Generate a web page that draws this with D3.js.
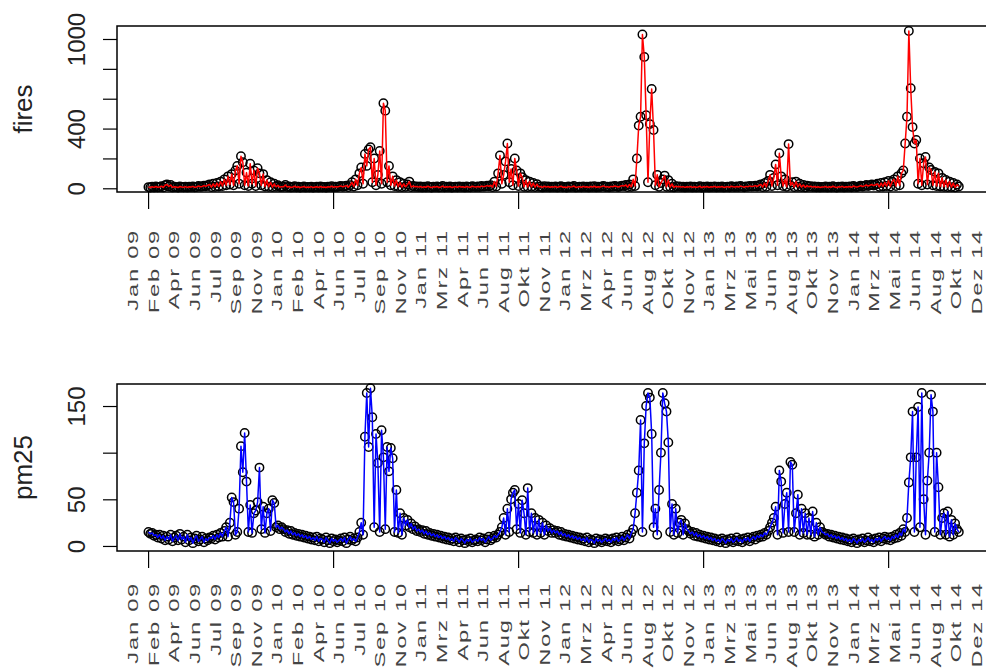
<!DOCTYPE html>
<html>
<head>
<meta charset="utf-8">
<script src="https://cdn.jsdelivr.net/npm/d3@7"></script>
<style>
body { margin: 0; background: #fff; }
svg { display: block; }
</style>
</head>
<body>
<div id="chart"></div>
<script>
"use strict";

// daily series, one value every 5 days from day 1 (1 Jan 2009)
// first line of each year: quiet months, second line: fire season
var start_day = 1;
var step_days = 5;

var fires_2009 = [
    8,5,10,6,12,7,9,14,6,20,25,12,22,6,10,8,5,12,9,7,11,6,10,8,13,7,9,15,10,12,18,14,20,
    25,8,30,10,35,12,45,15,60,20,80,25,95,20,120,150,30,215,175,20,105,15,165,30,120,15,135,100,20,95,12,55,10,40,8,30,10,20,8,10
];
var fires_2010 = [
    10,22,8,12,6,9,14,7,10,5,8,12,6,9,7,11,5,8,10,6,12,7,9,5,10,8,14,7,11,9,12,16,10,14,
    18,8,20,40,12,60,20,100,140,30,230,150,260,275,40,200,20,90,250,30,570,520,40,150,20,80,15,55,10,40,8,30,10,25,45,8,15,10,12
];
var fires_2011 = [
    8,12,6,10,7,14,9,5,11,8,12,6,9,15,7,10,8,12,5,9,11,7,13,8,10,6,12,9,7,14,10,8,12,9,15,11,13,18,14,
    20,8,45,12,100,220,30,90,180,300,40,130,20,200,120,15,100,75,10,55,8,45,10,35,8,28,10,12,6,14,8,12,7,10
];
var fires_2012 = [
    8,12,6,10,14,7,9,5,12,8,10,15,6,9,11,7,13,8,10,6,12,9,14,7,10,8,12,16,9,11,7,13,10,15,12,9,14,18,15,
    22,8,25,10,60,15,200,420,480,1030,880,490,40,430,665,390,20,90,10,35,60,85,10,55,8,30,6,14,10,12,8,11,6,10
];
var fires_2013 = [
    8,12,6,10,7,9,14,5,11,8,12,6,10,9,13,7,10,8,12,6,9,11,7,14,10,8,12,9,15,11,7,13,10,16,12,14,18,12,20,
    25,8,35,10,50,90,15,70,160,20,235,80,15,60,10,296,20,40,8,45,10,30,8,22,6,18,10,14,8,12,7,10,6,9
];
var fires_2014 = [
    8,12,6,10,7,14,9,5,11,8,13,6,10,9,12,7,15,10,8,13,18,12,16,22,15,20,25,18,24,
    30,10,35,12,40,15,50,12,45,60,15,80,20,100,120,300,480,1054,670,410,300,323,30,200,20,168,210,25,140,123,
    20,110,15,100,12,70,10,56,8,45,8,35,6,25,12
];

var pm25_2009 = [
    15,13,14,11,12,9,12,8,11,6,10,7,12,5,9,11,6,13,7,10,4,12,6,9,3,8,11,5,7,10,4,8,6,9,8,11,7,12,9,14,10,
    16,20,10,25,52,47,12,15,40,107,79,121,69,15,44,14,35,38,47,84,18,42,14,35,40,16,49,46,20,22,18,20
];
var pm25_2010 = [
    18,15,17,13,16,12,14,11,13,10,12,9,11,8,10,7,9,6,10,5,8,7,4,9,6,3,8,5,7,4,6,8,5,9,3,7,10,6,8,5,9,
    15,25,12,117,164,106,169,138,20,120,89,15,124,95,18,106,80,105,94,15,60,14,35,12,30,22,28,20,24,18,21,16
];
var pm25_2011 = [
    18,15,17,13,16,12,14,11,13,10,12,9,11,8,10,7,9,6,8,5,9,7,4,8,6,3,7,5,8,4,6,7,5,9,6,8,4,7,10,6,8,11,9,12,15,
    20,30,12,40,15,50,57,60,18,45,14,49,35,12,62,15,35,14,30,12,28,14,25,12,22,16,19,14
];
var pm25_2012 = [
    17,14,16,12,15,11,13,10,12,9,11,8,10,7,9,6,8,5,9,4,7,6,3,8,5,7,4,6,8,5,7,4,8,6,9,5,7,10,6,9,12,8,14,18,
    35,57,81,135,15,110,150,164,159,120,20,40,12,60,100,164,153,144,111,15,45,12,40,14,25,28,12,24,18
];
var pm25_2013 = [
    16,13,15,11,14,10,12,9,11,8,10,7,9,6,8,5,7,4,8,6,3,7,5,8,4,6,9,5,7,4,8,6,9,5,8,10,7,11,9,12,10,14,12,16,20,
    25,30,42,12,81,69,14,45,57,15,90,87,15,35,55,12,40,14,35,12,30,12,37,10,25,12,20,15
];
var pm25_2014 = [
    14,12,13,10,12,9,11,8,10,7,9,6,8,5,7,4,8,6,3,7,5,8,4,6,9,5,7,4,8,6,9,5,8,10,7,9,6,10,8,12,9,14,11,18,15,
    30,68,95,144,15,95,149,20,164,50,12,70,100,162,144,15,100,63,12,30,35,12,37,10,28,12,24,18,15
];

var month_labels = [
    "Jan 09","Feb 09","Apr 09","Jun 09","Jul 09","Sep 09","Nov 09",
    "Jan 10","Feb 10","Apr 10","Jun 10","Jul 10","Sep 10","Nov 10",
    "Jan 11","Mrz 11","Apr 11","Jun 11","Aug 11","Okt 11","Nov 11",
    "Jan 12","Mrz 12","Apr 12","Jun 12","Aug 12","Okt 12","Nov 12",
    "Jan 13","Mrz 13","Mai 13","Jun 13","Aug 13","Okt 13","Nov 13",
    "Jan 14","Mrz 14","Mai 14","Jun 14","Aug 14","Okt 14","Dez 14"
];

var x_ticks = [0, 500, 1000, 1500, 2000];
var fires_ticks = [0, 200, 400, 600, 800, 1000];
var fires_tick_labels = [0, 400, 1000];
var pm25_ticks = [0, 50, 100, 150];
var pm25_tick_labels = [0, 50, 150];

var fires = [].concat(fires_2009, fires_2010, fires_2011, fires_2012, fires_2013, fires_2014);
var pm25 = [].concat(pm25_2009, pm25_2010, pm25_2011, pm25_2012, pm25_2013, pm25_2014);

var specs = {
    w: 986,
    h: 671,
    left: 117,
    right: 991
};

var panels = [
    { name: "fires", values: fires, color: "#ff0000", top: 26, bottom: 192,
      domain: [-24.8, 1087], ticks: fires_ticks, tick_labels: fires_tick_labels, label_y: 229 },
    { name: "pm25", values: pm25, color: "#0000ff", top: 384, bottom: 551,
      domain: [-5.4, 173.6], ticks: pm25_ticks, tick_labels: pm25_tick_labels, label_y: 582 }
];

var svg = d3.select("#chart").append("svg")
    .attr("width", specs.w)
    .attr("height", specs.h);

var x = d3.scaleLinear().domain([-84, 2278]).range([specs.left, specs.right]);

// month labels sit evenly along the axis, not on their dates
var x_months = d3.scalePoint().domain(month_labels).range([x(-40), x(2240)]);

function day_of(i) { return start_day + i * step_days; }

panels.forEach(function(p) {
    var y = d3.scaleLinear().domain(p.domain).range([p.bottom, p.top]);
    var g = svg.append("g");

    // open circles first, coloured line on top
    g.selectAll("circle")
        .data(p.values)
        .enter()
        .append("circle")
        .attr("cx", function(d, i) { return x(day_of(i)); })
        .attr("cy", function(d) { return y(d); })
        .attr("r", 4.2)
        .attr("fill", "none")
        .attr("stroke", "#000")
        .attr("stroke-width", 1.5);

    var line = d3.line()
        .x(function(d, i) { return x(day_of(i)); })
        .y(function(d) { return y(d); });

    g.append("path")
        .datum(p.values)
        .attr("d", line)
        .attr("fill", "none")
        .attr("stroke", p.color)
        .attr("stroke-width", 1.5)
        .attr("stroke-linejoin", "round");

    // frame
    g.append("rect")
        .attr("x", specs.left)
        .attr("y", p.top)
        .attr("width", specs.right - specs.left)
        .attr("height", p.bottom - p.top)
        .attr("fill", "none")
        .attr("stroke", "#000")
        .attr("stroke-width", 1.5);

    // y axis
    var y_axis = g.append("g")
        .attr("transform", "translate(" + specs.left + ",0)")
        .call(d3.axisLeft(y).tickValues(p.ticks).tickSize(14).tickSizeOuter(0)
            .tickFormat(function(d) { return p.tick_labels.indexOf(d) >= 0 ? d : ""; }));
    y_axis.select(".domain").remove();
    y_axis.selectAll("line").attr("stroke", "#000").attr("stroke-width", 1.2);
    y_axis.selectAll("text")
        .attr("x", null)
        .attr("dy", "0.36em")
        .attr("transform", "translate(-41,0) rotate(-90)")
        .attr("text-anchor", "middle")
        .style("font-family", "'Liberation Sans', Arial, sans-serif")
        .style("font-size", "24px")
        .attr("fill", "#222");

    g.append("text")
        .attr("transform", "translate(32," + ((p.top + p.bottom) / 2) + ") rotate(-90)")
        .attr("text-anchor", "middle")
        .style("font-family", "'Liberation Sans', Arial, sans-serif")
        .style("font-size", "26px")
        .attr("fill", "#222")
        .text(p.name);

    // x axis ticks without numbers
    var x_axis = g.append("g")
        .attr("transform", "translate(0," + p.bottom + ")")
        .call(d3.axisBottom(x).tickValues(x_ticks).tickSize(17).tickSizeOuter(0).tickFormat(""));
    x_axis.select(".domain").remove();
    x_axis.selectAll("line").attr("stroke", "#000").attr("stroke-width", 1.2);

    // rotated, widely set month labels
    g.selectAll(".month")
        .data(month_labels)
        .enter()
        .append("text")
        .attr("class", "month")
        .attr("transform", function(d) {
            return "translate(" + x_months(d) + "," + p.label_y + ") rotate(-90) scale(1.7,1)";
        })
        .attr("dy", "0.36em")
        .attr("text-anchor", "end")
        .style("font-family", "'Liberation Sans', Arial, sans-serif")
        .style("font-size", "14px")
        .style("letter-spacing", "1px")
        .attr("fill", "#444")
        .text(function(d) { return d; });
});
</script>
</body>
</html>
